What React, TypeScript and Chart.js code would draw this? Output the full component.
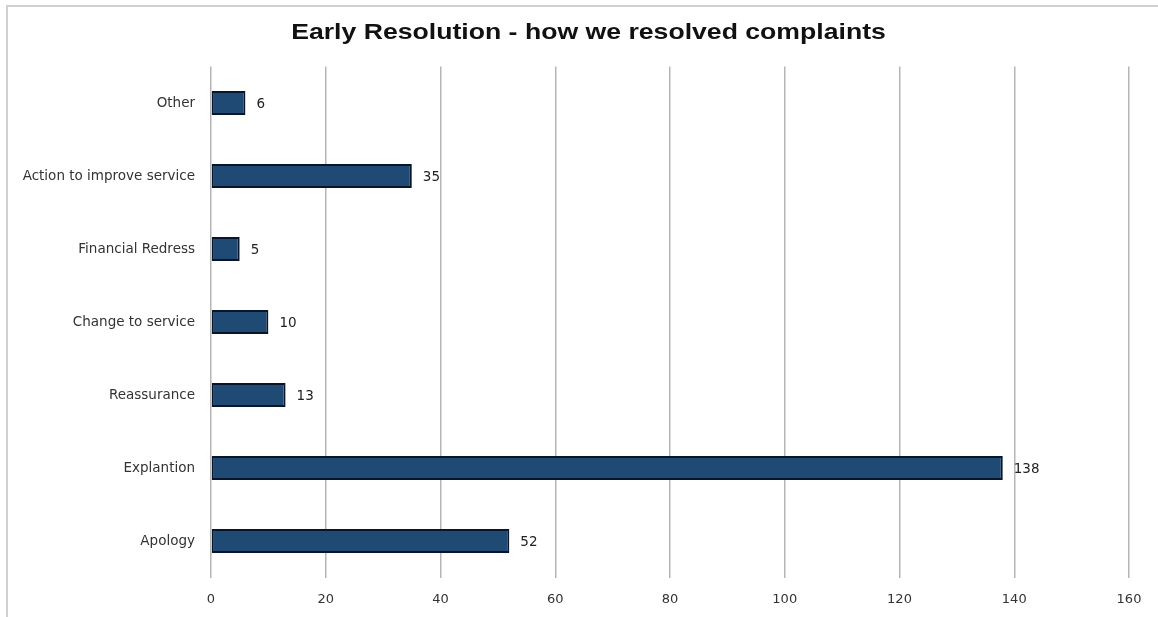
import React, { useEffect, useRef } from "react";
import { Chart, registerables } from "chart.js";

Chart.register(...registerables);

const TITLE = "Early Resolution - how we resolved complaints";
const categories = [
  "Other",
  "Action to improve service",
  "Financial Redress",
  "Change to service",
  "Reassurance",
  "Explantion",
  "Apology",
];
const values = [6, 35, 5, 10, 13, 138, 52];
const X_MIN = 0;
const X_MAX = 160;
const X_STEP = 20;

const FONT = "'DejaVu Sans'";

const valueLabels = {
  id: "valueLabels",
  afterDatasetsDraw(chart: any) {
    const ctx = chart.ctx;
    const meta = chart.getDatasetMeta(0);
    ctx.save();
    ctx.font = `13.5px ${FONT}`;
    ctx.fillStyle = "#222";
    ctx.textAlign = "left";
    ctx.textBaseline = "middle";
    meta.data.forEach((bar: any, i: number) => {
      ctx.fillText(String(values[i]), bar.x + 11, bar.y + 1);
    });
    ctx.restore();
  },
};

const stretchedTitle = {
  id: "stretchedTitle",
  afterDraw(chart: any) {
    const ctx = chart.ctx;
    ctx.save();
    ctx.font = "bold 22px 'Liberation Sans', Arial";
    ctx.fillStyle = "#111";
    ctx.textAlign = "center";
    ctx.textBaseline = "middle";
    ctx.translate(588.5, 33);
    ctx.scale(1.21, 1);
    ctx.fillText(TITLE, 0, 0);
    ctx.restore();
  },
};

export default function App() {
  const ref = useRef<HTMLCanvasElement>(null);
  useEffect(() => {
    if (!ref.current) return;
    const chart = new Chart(ref.current, {
      type: "bar",
      data: {
        labels: categories,
        datasets: [
          {
            data: values,
            backgroundColor: "#1f4a73",
            borderColor: "#08152a",
            borderWidth: 2,
            borderSkipped: false,
            categoryPercentage: 1,
            barPercentage: 0.33,
          },
        ],
      },
      options: {
        indexAxis: "y",
        animation: false,
        responsive: false,
        maintainAspectRatio: false,
        layout: { padding: { left: 0, right: 29, top: 66.5, bottom: 0 } },
        plugins: {
          legend: { display: false },
          tooltip: { enabled: false },
          title: { display: false },
        },
        scales: {
          x: {
            min: X_MIN,
            max: X_MAX,
            ticks: {
              stepSize: X_STEP,
              color: "#333",
              font: { family: FONT, size: 13 },
              padding: 14,
            },
            grid: { color: "#b5b5b5", lineWidth: 1.5, drawTicks: false },
            border: { display: false },
            afterFit(scale: any) {
              scale.height = 39.5;
            },
          },
          y: {
            ticks: {
              color: "#333",
              font: { family: FONT, size: 13.5 },
              padding: 16,
            },
            grid: { display: false, drawTicks: false },
            border: { display: false },
            afterFit(scale: any) {
              scale.width = 211;
            },
          },
        },
      },
      plugins: [valueLabels, stretchedTitle],
    });
    return () => chart.destroy();
  }, []);

  return (
    <div style={{ position: "fixed", left: 0, top: 0, width: 1158, height: 617, background: "#fff" }}>
      <div
        style={{
          position: "absolute",
          left: 6,
          top: 5,
          right: -10,
          bottom: -10,
          borderLeft: "2px solid #d0d0d0",
          borderTop: "2px solid #d0d0d0",
        }}
      />
      <canvas ref={ref} width={1158} height={617} style={{ position: "absolute", left: 0, top: 0 }} />
    </div>
  );
}
